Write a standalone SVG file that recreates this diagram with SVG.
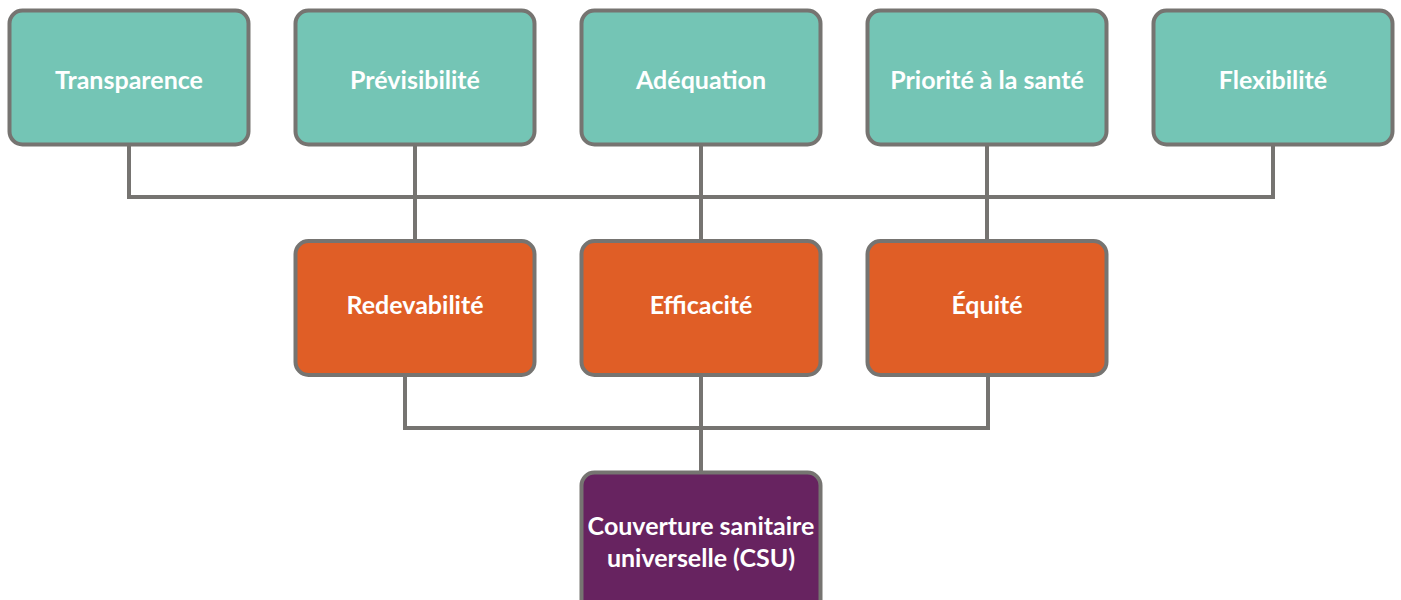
<svg xmlns="http://www.w3.org/2000/svg" width="1401" height="600" viewBox="0 0 1401 600">
<style>
.box{stroke:#767471;stroke-width:4}
.t{fill:#74c5b5}
.o{fill:#e05e26}
.p{fill:#672360}
.lbl{font-family:"Lato","Open Sans",sans-serif;font-weight:bold;font-size:25px;fill:#ffffff;text-anchor:middle}
.c{fill:none;stroke:#767471;stroke-width:4}
</style>
<rect width="1401" height="600" fill="#ffffff"/>
<g id="connectors">
<path class="c" d="M129 146V197H1273V146"/>
<path class="c" d="M415 146V241M701 146V241M987 146V241"/>
<path class="c" d="M405 376V428H988V376"/>
<path class="c" d="M701 376V472"/>
</g>
<g id="n1"><rect class="box t" x="9.5" y="10.5" width="239" height="134" rx="13"/><text class="lbl" x="129" y="89">Transparence</text></g>
<g id="n2"><rect class="box t" x="295.5" y="10.5" width="239" height="134" rx="13"/><text class="lbl" x="415" y="89">Prévisibilité</text></g>
<g id="n3"><rect class="box t" x="581.5" y="10.5" width="239" height="134" rx="13"/><text class="lbl" x="701" y="89">Adéquation</text></g>
<g id="n4"><rect class="box t" x="867.5" y="10.5" width="239" height="134" rx="13"/><text class="lbl" x="987" y="89">Priorité à la santé</text></g>
<g id="n5"><rect class="box t" x="1153.5" y="10.5" width="239" height="134" rx="13"/><text class="lbl" x="1273" y="89">Flexibilité</text></g>
<g id="n6"><rect class="box o" x="295.5" y="241" width="239" height="134" rx="13"/><text class="lbl" x="415" y="314">Redevabilité</text></g>
<g id="n7"><rect class="box o" x="581.5" y="241" width="239" height="134" rx="13"/><text class="lbl" x="701" y="314">Efficacité</text></g>
<g id="n8"><rect class="box o" x="867.5" y="241" width="239" height="134" rx="13"/><text class="lbl" x="987" y="314">Équité</text></g>
<g id="n9"><rect class="box p" x="581.5" y="472.5" width="239" height="150" rx="13"/><text class="lbl" x="701" y="535">Couverture sanitaire</text><text class="lbl" x="701" y="567">universelle (CSU)</text></g>
</svg>
